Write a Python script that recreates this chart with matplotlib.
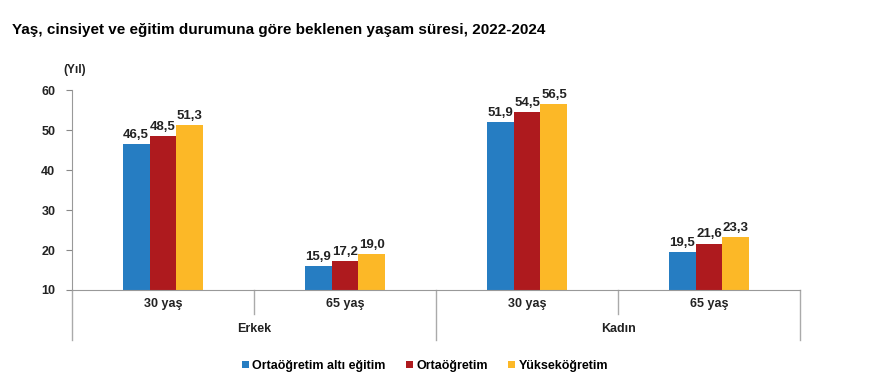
import matplotlib
matplotlib.use("Agg")
import matplotlib.pyplot as plt
import matplotlib.transforms as mtransforms
import numpy as np

plt.rcParams['font.family'] = ['Liberation Sans', 'DejaVu Sans']
plt.rcParams['font.weight'] = 'bold'

# veriler
yas_gruplari = ["30 yaş", "65 yaş", "30 yaş", "65 yaş"]
cinsiyetler = ["Erkek", "Kadın"]
seriler = ["Ortaöğretim altı eğitim", "Ortaöğretim", "Yükseköğretim"]
ortaogretim_alti = [46.5, 15.9, 51.9, 19.5]
ortaogretim = [48.5, 17.2, 54.5, 21.6]
yuksekogretim = [51.3, 19.0, 56.5, 23.3]
renkler = ["#267DC2", "#AE1A1E", "#FCB827"]

fig = plt.figure(figsize=(8.9, 3.85), dpi=100)
W, H = 890, 385
ax = fig.add_axes([72 / W, 1 - 290 / H, (800 - 72) / W, 200 / H])

x = np.arange(len(yas_gruplari))
gen = 0.148
tum_seriler = [ortaogretim_alti, ortaogretim, yuksekogretim]
for i, (deger, renk, ad) in enumerate(zip(tum_seriler, renkler, seriler)):
    konum = x + (i - 1) * gen
    ax.bar(konum, np.array(deger) - 10, bottom=10, width=gen, color=renk,
           label=ad, zorder=2)
    for xx, v in zip(konum, deger):
        ax.text(xx, v + 0.8, f"{v:.1f}".replace(".", ","), ha="center",
                va="bottom", fontsize=9.5, fontweight="bold", color="#222222")

ax.set_xlim(-0.5, len(yas_gruplari) - 0.5)
ax.set_ylim(10, 60)
ax.set_yticks([10, 20, 30, 40, 50, 60])
ax.tick_params(axis="y", labelsize=9, length=4, color="#888888",
               labelcolor="#222222", pad=8)
ax.set_xticks([])
for s in ["top", "right"]:
    ax.spines[s].set_visible(False)
for s in ["left", "bottom"]:
    ax.spines[s].set_color("#999999")

# alt kategori çizgileri
trans = mtransforms.blended_transform_factory(ax.transData, ax.transAxes)
for b in [0.5, 2.5]:
    ax.plot([b, b], [0, -0.12], transform=trans, color="#aaaaaa", lw=1, clip_on=False)
for b in [-0.5, 1.5, 3.5]:
    ax.plot([b, b], [0, -0.25], transform=trans, color="#aaaaaa", lw=1, clip_on=False)
for xx, lab in zip(x, yas_gruplari):
    ax.text(xx, -0.07, lab, transform=trans, ha="center", va="center",
            fontsize=9, fontweight="bold", color="#222222")
for j, c in enumerate(cinsiyetler):
    ax.text(2 * j + 0.5, -0.195, c, transform=trans, ha="center", va="center",
            fontsize=9, fontweight="bold", color="#222222")

fig.text(12 / W, 1 - 30 / H, "Yaş, cinsiyet ve eğitim durumuna göre beklenen yaşam süresi, 2022-2024",
         fontsize=11, fontweight="bold", va="center", ha="left")
fig.text(75 / W, 1 - 70 / H, "(Yıl)", fontsize=8.5, fontweight="bold",
         va="center", ha="center", color="#222222")

fig.legend(loc="center", bbox_to_anchor=(425 / W, 1 - 366 / H), ncol=3,
           frameon=False, fontsize=9, handlelength=0.55, handleheight=0.55,
           handletextpad=0.3, columnspacing=1.6)

fig.savefig("out.png", dpi=100)
